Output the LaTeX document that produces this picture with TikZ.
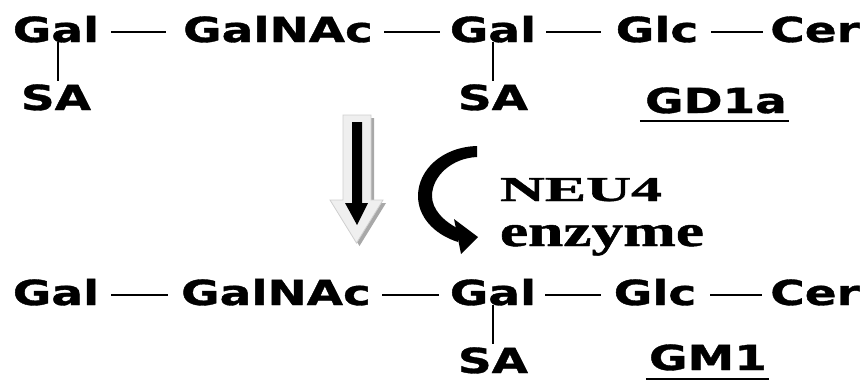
\documentclass[tikz,border=0pt]{standalone}
\usepackage{fontspec}
\setmainfont{Liberation Serif}[BoldFeatures={FakeBold=1}]
\newfontfamily\dvs{DejaVu Sans}[BoldFeatures={FakeBold=1}]
\usetikzlibrary{calc}
\newcommand{\sx}[1]{\scalebox{1.36}[1]{#1}}
\definecolor{arrowfill}{HTML}{EFEFEF}
\definecolor{arrowedge}{HTML}{CFCFCF}
\definecolor{arrowshadow}{HTML}{A8A8A8}
\tikzset{
  sugar/.style={inner sep=0pt, anchor=base, font=\dvs\bfseries\fontsize{34.5}{36}\selectfont},
  bond/.style={line width=1.7pt},
  uline/.style={line width=2pt},
  enz/.style={inner sep=0pt, anchor=base, font=\bfseries},
}
\begin{document}
\begin{tikzpicture}[x=1pt,y=-1pt]
\useasboundingbox[fill=white] (0,0) rectangle (866,381);

% ---- top row (GD1a)
\node[sugar] (t1) at (56,42) {\sx{Gal}};
\node[sugar] (t2) at (278,42) {\sx{GalNAc}};
\node[sugar] (t3) at (493,42) {\sx{Gal}};
\node[sugar] (t4) at (657,42) {\sx{Glc}};
\node[sugar] (t5) at (815,42) {\sx{Cer}};
\node[sugar] (ts1) at (56,110) {\sx{SA}};
\node[sugar] (ts3) at (493,110) {\sx{SA}};
\node[sugar] (gd) at (716,113) {\sx{GD1a}};

\draw[bond] ([xshift=12pt,yshift=10pt]t1.base east) -- ([xshift=-17pt,yshift=10pt]t2.base west);
\draw[bond] ([xshift=11pt,yshift=10pt]t2.base east) -- ([xshift=-10pt,yshift=10pt]t3.base west);
\draw[bond] ([xshift=10pt,yshift=10pt]t3.base east) -- ([xshift=-15pt,yshift=10pt]t4.base west);
\draw[bond] ([xshift=13pt,yshift=10pt]t4.base east) -- ([xshift=-7pt,yshift=10pt]t5.base west);
\draw[bond] ([xshift=2pt]t1.base) -- ([xshift=2pt,yshift=3pt]ts1.north);
\draw[bond] ([xshift=0pt]t3.base) -- ([xshift=0pt,yshift=3pt]ts3.north);
\draw[uline] ([xshift=-5pt,yshift=-8pt]gd.base west) -- ([xshift=2pt,yshift=-8pt]gd.base east);

% ---- bottom row (GM1)
\node[sugar] (b1) at (56,305) {\sx{Gal}};
\node[sugar] (b2) at (276,305) {\sx{GalNAc}};
\node[sugar] (b3) at (493,305) {\sx{Gal}};
\node[sugar] (b4) at (655,305) {\sx{Glc}};
\node[sugar] (b5) at (815,305) {\sx{Cer}};
\node[sugar] (bs3) at (493,373) {\sx{SA}};
\node[sugar] (gm) at (708,370) {\sx{GM1}};

\draw[bond] ([xshift=12pt,yshift=10pt]b1.base east) -- ([xshift=-13pt,yshift=10pt]b2.base west);
\draw[bond] ([xshift=11pt,yshift=10pt]b2.base east) -- ([xshift=-11pt,yshift=10pt]b3.base west);
\draw[bond] ([xshift=9pt,yshift=10pt]b3.base east) -- ([xshift=-13pt,yshift=10pt]b4.base west);
\draw[bond] ([xshift=14pt,yshift=10pt]b4.base east) -- ([xshift=-8pt,yshift=10pt]b5.base west);
\draw[bond] (b3.base) -- ([yshift=3pt]bs3.north);
\draw[uline] ([xshift=-3pt,yshift=-9pt]gm.base west) -- ([xshift=2pt,yshift=-9pt]gm.base east);

% ---- block arrow (hollow, shadowed) with black arrow inside
\fill[arrowshadow] (346,118) -- (374,118) -- (374,203) -- (386,203) -- (359.5,246) -- (333,203) -- (346,203) -- cycle;
\filldraw[fill=arrowfill, draw=arrowedge, line width=0.8pt]
  (343,115) -- (371,115) -- (371,200) -- (383,200) -- (356.5,243) -- (330,200) -- (343,200) -- cycle;
\fill[black] (352,122) -- (362,122) -- (362,203) -- (368,203) -- (357,225) -- (345,203) -- (352,203) -- cycle;

% ---- curved enzyme arrow
\fill[black] (477,146) .. controls (442,147) and (418,170) .. (418,196)
  .. controls (418,216) and (433,234) .. (458,242)
  -- (459,229)
  .. controls (443,221) and (432,209) .. (432,196)
  .. controls (432,176) and (452,158) .. (477,157) -- cycle;
\fill[black] (454,219) -- (478,237) -- (461,254) -- cycle;

\node[enz] (neu) at (581,201) {\resizebox{162pt}{23pt}{NEU4}};
\node[enz] (enzy) at (602,246) {\resizebox{204pt}{21pt}{enzyme}};
\end{tikzpicture}
\end{document}
